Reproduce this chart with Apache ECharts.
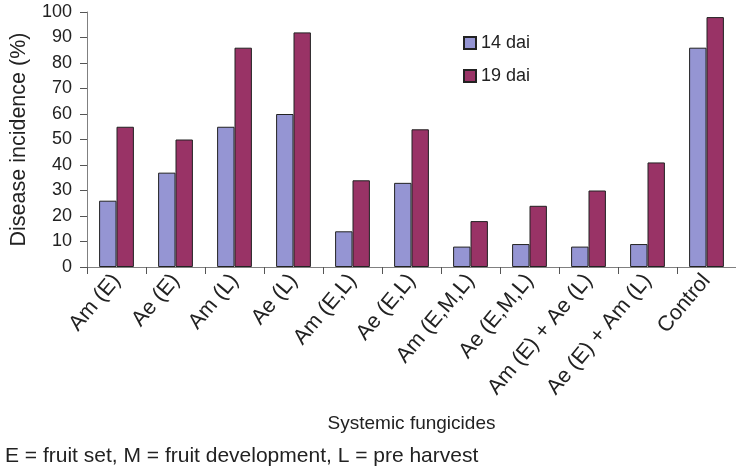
<!DOCTYPE html>
<html>
<head>
<meta charset="utf-8">
<script src="https://cdn.jsdelivr.net/npm/echarts@6/dist/echarts.min.js"></script>
<style>html,body{margin:0;padding:0;background:#fff;}#c{width:736px;height:471px;}</style>
</head>
<body>
<div id="c"></div>
<script>
const categories = ['Am (E)', 'Ae (E)', 'Am (L)', 'Ae (L)', 'Am (E,L)', 'Ae (E,L)', 'Am (E,M,L)', 'Ae (E,M,L)', 'Am (E) + Ae (L)', 'Ae (E) + Am (L)', 'Control'];
const dai14 = [26, 37, 55, 60, 14, 33, 8, 9, 8, 9, 86];
const dai19 = [55, 50, 86, 92, 34, 54, 18, 24, 30, 41, 98];
const yTicks = [0, 10, 20, 30, 40, 50, 60, 70, 80, 90, 100];

const FONT = "'Liberation Sans', Arial, sans-serif";
const chart = echarts.init(document.getElementById('c'), null, {renderer: 'canvas'});
chart.setOption({
  animation: false,
  backgroundColor: '#fff',
  textStyle: {fontFamily: FONT, color: '#222'},
  grid: {left: 86, top: 12, right: -4, bottom: 204, containLabel: false},
  legend: {
    orient: 'vertical', left: 463, top: 34, padding: 0,
    itemWidth: 12, itemHeight: 12, itemGap: 15,
    icon: 'rect',
    textStyle: {fontSize: 18, fontFamily: FONT, color: '#222', lineHeight: 18},
    data: ['14 dai', '19 dai']
  },
  xAxis: {
    type: 'category', data: categories,
    name: 'Systemic fungicides', nameLocation: 'middle', nameGap: 147,
    nameTextStyle: {fontSize: 19, fontFamily: FONT, color: '#222'},
    axisLine: {lineStyle: {color: '#808080', width: 1}},
    axisTick: {show: true, length: 7, lineStyle: {color: '#555'}},
    axisLabel: {rotate: 50, interval: 0, fontSize: 21.5, margin: 10, fontFamily: FONT, color: '#222'}
  },
  yAxis: {
    type: 'value', min: yTicks[0], max: yTicks[yTicks.length - 1], interval: 10,
    name: 'Disease incidence (%)', nameLocation: 'middle', nameGap: 57,
    nameTextStyle: {fontSize: 21.5, fontFamily: FONT, color: '#222'},
    axisLine: {show: true, lineStyle: {color: '#808080', width: 1}},
    axisTick: {show: true, length: 7, lineStyle: {color: '#555'}},
    splitLine: {show: false},
    axisLabel: {fontSize: 18, margin: 15, fontFamily: FONT, color: '#222'}
  },
  series: [
    {name: '14 dai', type: 'bar', data: dai14, barWidth: '29.5%', barGap: '0%',
     itemStyle: {color: '#9595d3', borderColor: '#222', borderWidth: 1}},
    {name: '19 dai', type: 'bar', data: dai19, barWidth: '29.5%', barGap: '0%',
     itemStyle: {color: '#993366', borderColor: '#222', borderWidth: 1}}
  ],
  graphic: [
    {type: 'text', left: 5, top: 446,
     style: {text: 'E = fruit set, M = fruit development, L = pre harvest', font: '21px ' + FONT, fill: '#222'}}
  ]
});
</script>
</body>
</html>
